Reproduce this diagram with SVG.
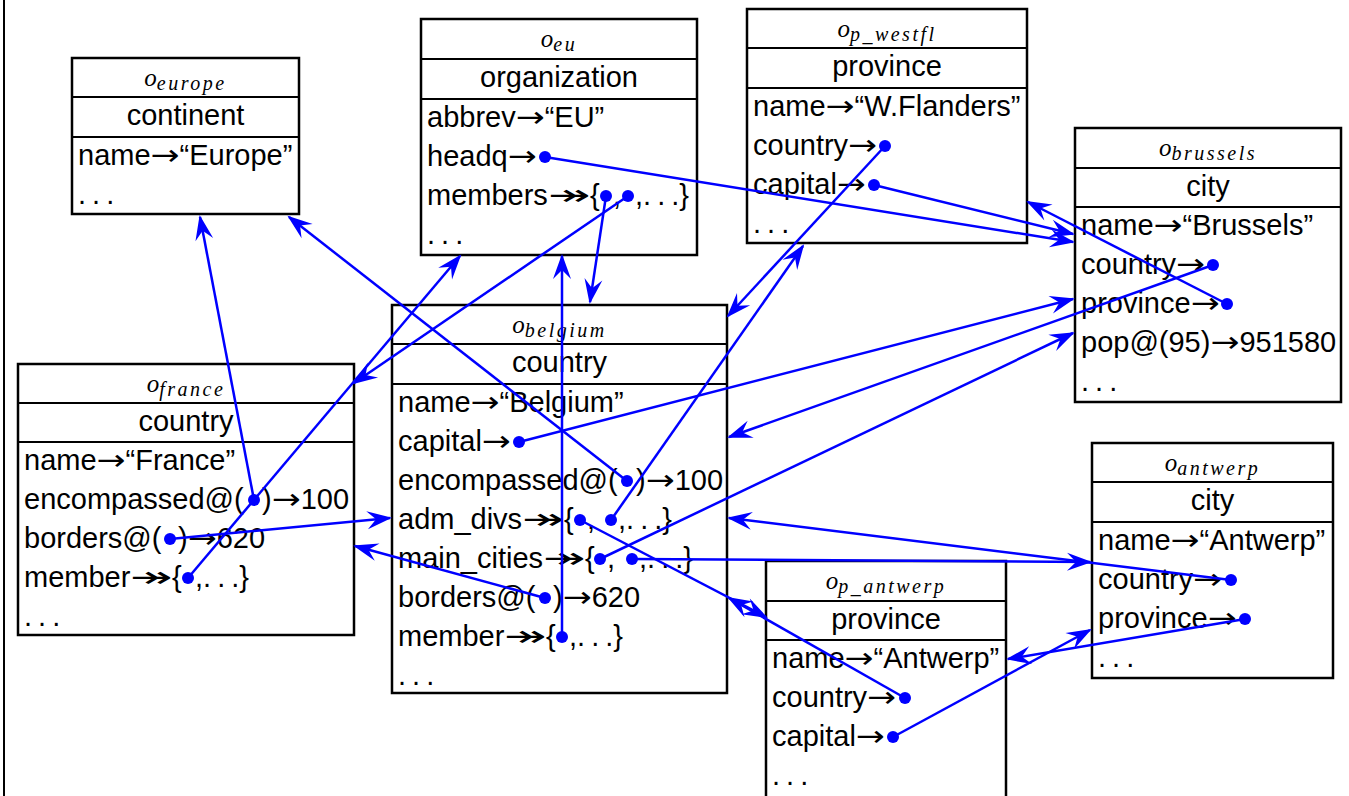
<svg xmlns="http://www.w3.org/2000/svg" width="1349" height="796" viewBox="0 0 1349 796">
<style>
.bx{fill:#fff;stroke:#000;stroke-width:2.5}
.dv{stroke:#000;stroke-width:2.2}
.t{font-family:"Liberation Sans",Arial,sans-serif;font-size:29px;fill:#000}
.c{text-anchor:middle}
.ar{font-family:"DejaVu Sans",sans-serif}
.ti{font-family:"Liberation Serif","Times New Roman",serif;font-style:italic;font-size:25px;text-anchor:middle}
.sub{font-size:20px;letter-spacing:2.5px}
.el{word-spacing:-2px}
.dot{fill:#0000ff}
.cn line{stroke:#0000ff;stroke-width:2.5;fill:none;marker-end:url(#ah)}
</style>
<defs>
<marker id="ah" markerUnits="userSpaceOnUse" orient="auto" overflow="visible" refX="0" refY="0" markerWidth="1" markerHeight="1">
<path d="M2,0 L-23,-9 L-14,0 L-23,9 Z" fill="#0000ff"/>
</marker>
</defs>
<rect width="1349" height="796" fill="#fff"/>
<line x1="4" y1="0" x2="4" y2="796" stroke="#000" stroke-width="2"/>

<g id="o_europe">
<rect class="bx" x="72" y="58" width="227" height="156"/>
<line class="dv" x1="72" y1="97" x2="299" y2="97"/>
<line class="dv" x1="72" y1="137" x2="299" y2="137"/>
<text class="ti" x="185.5" y="86">o<tspan class="sub" dy="4">europe</tspan></text>
<text class="t c" x="185.5" y="125">continent</text>
<text class="t" x="78" y="165">name<tspan class="ar" textLength="29" lengthAdjust="spacingAndGlyphs">→</tspan>“Europe”</text>
<text class="t el" x="78" y="204">. . .</text>
</g>

<g id="o_eu">
<rect class="bx" x="421" y="19" width="276" height="236"/>
<line class="dv" x1="421" y1="59" x2="697" y2="59"/>
<line class="dv" x1="421" y1="99" x2="697" y2="99"/>
<text class="ti" x="559" y="47">o<tspan class="sub" dy="4">eu</tspan></text>
<text class="t c" x="559" y="87">organization</text>
<text class="t" x="427" y="127">abbrev<tspan class="ar" textLength="29" lengthAdjust="spacingAndGlyphs">→</tspan>“EU”</text>
<text class="t" x="427" y="166">headq<tspan class="ar" textLength="29" lengthAdjust="spacingAndGlyphs">→</tspan></text>
<text class="t" x="427" y="205">members<tspan x="548" textLength="42" lengthAdjust="spacingAndGlyphs">↠</tspan><tspan x="590">{</tspan><tspan x="613">,</tspan><tspan class="el" x="635">,. . .}</tspan></text>
<text class="t el" x="427" y="244">. . .</text>
<circle class="dot" cx="545" cy="157" r="6"/>
<circle class="dot" cx="606" cy="196" r="6"/>
<circle class="dot" cx="628" cy="196" r="6"/>
</g>

<g id="o_p_westfl">
<rect class="bx" x="747" y="9" width="280" height="234"/>
<line class="dv" x1="747" y1="48" x2="1027" y2="48"/>
<line class="dv" x1="747" y1="88" x2="1027" y2="88"/>
<text class="ti" x="887" y="37">o<tspan class="sub" dy="4">p_westfl</tspan></text>
<text class="t c" x="887" y="76">province</text>
<text class="t" x="753" y="116">name<tspan class="ar" textLength="29" lengthAdjust="spacingAndGlyphs">→</tspan>“W.Flanders”</text>
<text class="t" x="753" y="155">country<tspan class="ar" textLength="29" lengthAdjust="spacingAndGlyphs">→</tspan></text>
<text class="t" x="753" y="194">capital<tspan class="ar" textLength="29" lengthAdjust="spacingAndGlyphs">→</tspan></text>
<text class="t el" x="753" y="233">. . .</text>
<circle class="dot" cx="885" cy="146" r="6"/>
<circle class="dot" cx="874" cy="185" r="6"/>
</g>

<g id="o_brussels">
<rect class="bx" x="1075" y="128" width="266" height="274"/>
<line class="dv" x1="1075" y1="168" x2="1341" y2="168"/>
<line class="dv" x1="1075" y1="207" x2="1341" y2="207"/>
<text class="ti" x="1208" y="156">o<tspan class="sub" dy="4">brussels</tspan></text>
<text class="t c" x="1208" y="196">city</text>
<text class="t" x="1081" y="235">name<tspan class="ar" textLength="29" lengthAdjust="spacingAndGlyphs">→</tspan>“Brussels”</text>
<text class="t" x="1081" y="274">country<tspan class="ar" textLength="29" lengthAdjust="spacingAndGlyphs">→</tspan></text>
<text class="t" x="1081" y="313">province<tspan class="ar" textLength="29" lengthAdjust="spacingAndGlyphs">→</tspan></text>
<text class="t" x="1081" y="352">pop@(95)<tspan class="ar" textLength="29" lengthAdjust="spacingAndGlyphs">→</tspan>951580</text>
<text class="t el" x="1081" y="391">. . .</text>
<circle class="dot" cx="1213" cy="265" r="6"/>
<circle class="dot" cx="1227" cy="304" r="6"/>
</g>

<g id="o_france">
<rect class="bx" x="18" y="364" width="336" height="271"/>
<line class="dv" x1="18" y1="403" x2="354" y2="403"/>
<line class="dv" x1="18" y1="442" x2="354" y2="442"/>
<text class="ti" x="186" y="392">o<tspan class="sub" dy="4">france</tspan></text>
<text class="t c" x="186" y="431">country</text>
<text class="t" x="24" y="470">name<tspan class="ar" textLength="29" lengthAdjust="spacingAndGlyphs">→</tspan>“France”</text>
<text class="t" x="24" y="509">encompassed@(<tspan x="262">)</tspan><tspan class="ar" textLength="29" lengthAdjust="spacingAndGlyphs">→</tspan>100</text>
<text class="t" x="24" y="548">borders@(<tspan x="178">)</tspan><tspan class="ar" textLength="29" lengthAdjust="spacingAndGlyphs">→</tspan>620</text>
<text class="t" x="24" y="587">member<tspan x="130" textLength="42" lengthAdjust="spacingAndGlyphs">↠</tspan><tspan x="172">{</tspan><tspan class="el" x="195">,. . .}</tspan></text>
<text class="t el" x="24" y="626">. . .</text>
<circle class="dot" cx="254" cy="500" r="6"/>
<circle class="dot" cx="170" cy="539" r="6"/>
<circle class="dot" cx="188" cy="578" r="6"/>
</g>

<g id="o_belgium">
<rect class="bx" x="392" y="305" width="335" height="388"/>
<line class="dv" x1="392" y1="344" x2="727" y2="344"/>
<line class="dv" x1="392" y1="384" x2="727" y2="384"/>
<text class="ti" x="559.5" y="333">o<tspan class="sub" dy="4">belgium</tspan></text>
<text class="t c" x="559.5" y="372">country</text>
<text class="t" x="398" y="412">name<tspan class="ar" textLength="29" lengthAdjust="spacingAndGlyphs">→</tspan>“Belgium”</text>
<text class="t" x="398" y="451">capital<tspan class="ar" textLength="29" lengthAdjust="spacingAndGlyphs">→</tspan></text>
<text class="t" x="398" y="490">encompassed@(<tspan x="636">)</tspan><tspan class="ar" textLength="29" lengthAdjust="spacingAndGlyphs">→</tspan>100</text>
<text class="t" x="398" y="529">adm_divs<tspan x="522" textLength="42" lengthAdjust="spacingAndGlyphs">↠</tspan><tspan x="564">{</tspan><tspan x="587">,</tspan><tspan class="el" x="618">,. . .}</tspan></text>
<text class="t" x="398" y="568">main_cities<tspan x="543" textLength="42" lengthAdjust="spacingAndGlyphs">↠</tspan><tspan x="585">{</tspan><tspan x="607">,</tspan><tspan class="el" x="639">,. . .}</tspan></text>
<text class="t" x="398" y="607">borders@(<tspan x="553">)</tspan><tspan class="ar" textLength="29" lengthAdjust="spacingAndGlyphs">→</tspan>620</text>
<text class="t" x="398" y="646">member<tspan x="504" textLength="42" lengthAdjust="spacingAndGlyphs">↠</tspan><tspan x="546">{</tspan><tspan class="el" x="569">,. . .}</tspan></text>
<text class="t el" x="398" y="685">. . .</text>
<circle class="dot" cx="519" cy="442" r="6"/>
<circle class="dot" cx="627" cy="481" r="6"/>
<circle class="dot" cx="580" cy="520" r="6"/>
<circle class="dot" cx="611" cy="520" r="6"/>
<circle class="dot" cx="600" cy="559" r="6"/>
<circle class="dot" cx="632" cy="559" r="6"/>
<circle class="dot" cx="545" cy="598" r="6"/>
<circle class="dot" cx="562" cy="637" r="6"/>
</g>

<g id="o_antwerp">
<rect class="bx" x="1092" y="443" width="241" height="235"/>
<line class="dv" x1="1092" y1="482" x2="1333" y2="482"/>
<line class="dv" x1="1092" y1="522" x2="1333" y2="522"/>
<text class="ti" x="1212.5" y="471">o<tspan class="sub" dy="4">antwerp</tspan></text>
<text class="t c" x="1212.5" y="510">city</text>
<text class="t" x="1098" y="550">name<tspan class="ar" textLength="29" lengthAdjust="spacingAndGlyphs">→</tspan>“Antwerp”</text>
<text class="t" x="1098" y="589">country<tspan class="ar" textLength="29" lengthAdjust="spacingAndGlyphs">→</tspan></text>
<text class="t" x="1098" y="628">province<tspan class="ar" textLength="29" lengthAdjust="spacingAndGlyphs">→</tspan></text>
<text class="t el" x="1098" y="667">. . .</text>
<circle class="dot" cx="1231" cy="580" r="6"/>
<circle class="dot" cx="1245" cy="619" r="6"/>
</g>

<g id="o_p_antwerp">
<rect class="bx" x="766" y="561" width="240" height="250"/>
<line class="dv" x1="766" y1="601" x2="1006" y2="601"/>
<line class="dv" x1="766" y1="640" x2="1006" y2="640"/>
<text class="ti" x="886" y="589">o<tspan class="sub" dy="4">p_antwerp</tspan></text>
<text class="t c" x="886" y="629">province</text>
<text class="t" x="772" y="668">name<tspan class="ar" textLength="29" lengthAdjust="spacingAndGlyphs">→</tspan>“Antwerp”</text>
<text class="t" x="772" y="707">country<tspan class="ar" textLength="29" lengthAdjust="spacingAndGlyphs">→</tspan></text>
<text class="t" x="772" y="746">capital<tspan class="ar" textLength="29" lengthAdjust="spacingAndGlyphs">→</tspan></text>
<text class="t el" x="772" y="785">. . .</text>
<circle class="dot" cx="905" cy="698" r="6"/>
<circle class="dot" cx="893" cy="737" r="6"/>
</g>

<g id="connectors" class="cn">
<line x1="545" y1="157" x2="1073" y2="242"/>
<line x1="606" y1="196" x2="590" y2="302"/>
<line x1="628" y1="196" x2="354" y2="383"/>
<line x1="885" y1="146" x2="728" y2="316"/>
<line x1="874" y1="185" x2="1073" y2="234"/>
<line x1="1213" y1="265" x2="729" y2="437"/>
<line x1="1227" y1="304" x2="1028" y2="202"/>
<line x1="254" y1="500" x2="200" y2="217"/>
<line x1="170" y1="539" x2="390" y2="518"/>
<line x1="188" y1="578" x2="460" y2="256"/>
<line x1="519" y1="442" x2="1073" y2="299"/>
<line x1="627" y1="481" x2="289" y2="217"/>
<line x1="580" y1="520" x2="766" y2="617"/>
<line x1="611" y1="520" x2="803" y2="246"/>
<line x1="600" y1="559" x2="1073" y2="333"/>
<line x1="632" y1="559" x2="1090" y2="562"/>
<line x1="545" y1="598" x2="355" y2="546"/>
<line x1="562" y1="637" x2="562" y2="256"/>
<line x1="1231" y1="580" x2="729" y2="518"/>
<line x1="1245" y1="619" x2="1008" y2="659"/>
<line x1="905" y1="698" x2="729" y2="598"/>
<line x1="893" y1="737" x2="1090" y2="630"/>
</g>
</svg>
